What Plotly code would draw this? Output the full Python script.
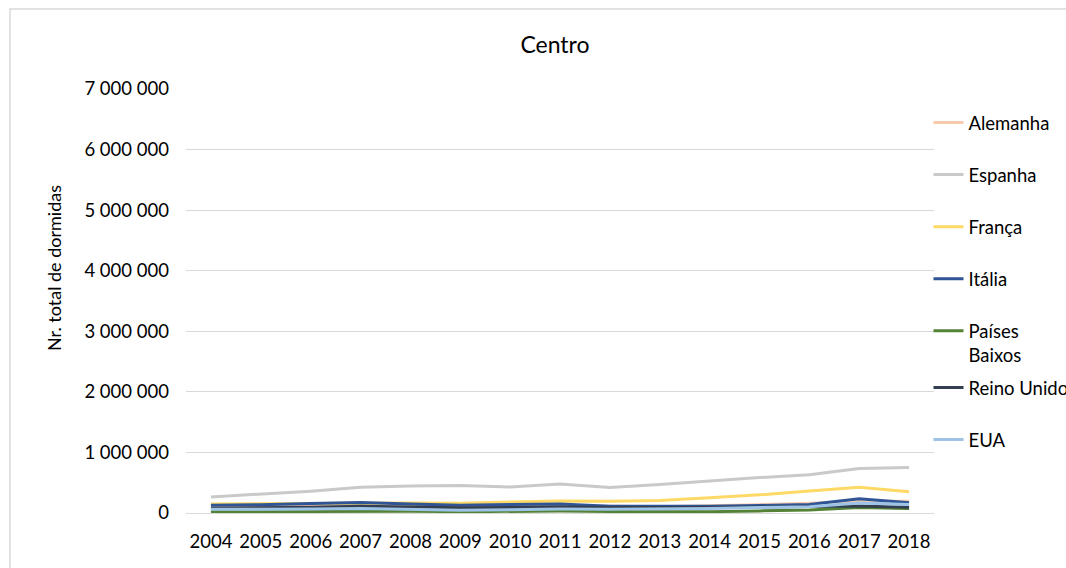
import plotly.graph_objects as go

# Dormidas por país de residência, região Centro
anos = [str(a) for a in range(2004, 2019)]

alemanha = [100000, 105000, 115000, 130000, 125000, 110000, 115000, 125000, 110000, 105000, 120000, 140000, 160000, 195000, 195000]
espanha = [265000, 310000, 360000, 425000, 445000, 452000, 430000, 478000, 420000, 470000, 530000, 585000, 630000, 735000, 750000]
franca = [150000, 150000, 155000, 160000, 165000, 160000, 180000, 200000, 195000, 205000, 250000, 300000, 365000, 425000, 350000]
italia = [130000, 135000, 155000, 175000, 150000, 130000, 140000, 150000, 110000, 105000, 110000, 125000, 140000, 235000, 170000]
paises_baixos = [20000, 25000, 28000, 32000, 30000, 22000, 28000, 32000, 25000, 20000, 22000, 35000, 50000, 90000, 75000]
reino_unido = [80000, 85000, 95000, 110000, 95000, 85000, 90000, 100000, 90000, 85000, 90000, 100000, 110000, 115000, 95000]
eua = [60000, 60000, 65000, 75000, 60000, 45000, 55000, 65000, 60000, 65000, 75000, 90000, 105000, 165000, 140000]

# (nome, valores, cor, legenda)
series = [
    ("Alemanha", alemanha, "#F8CBAD", "legend"),
    ("Espanha", espanha, "#C9C9C9", "legend"),
    ("França", franca, "#FFD966", "legend"),
    ("Itália", italia, "#2F5597", "legend"),
    ("Países<br>Baixos", paises_baixos, "#548235", "legend"),
    ("Reino Unido", reino_unido, "#333F50", "legend2"),
    ("EUA", eua, "#9DC3E6", "legend2"),
]

FONT = "Lato"
FS = 18.5

fig = go.Figure()
for i, (nome, valores, cor, leg) in enumerate(series):
    fig.add_trace(go.Scatter(
        x=anos, y=valores, name=nome, mode="lines",
        line=dict(color=cor, width=3),
        legendgroup=f"g{i}", legend=leg,
    ))

legend_common = dict(
    xref="container", yref="container",
    xanchor="left", yanchor="top",
    font=dict(family=FONT, size=FS, color="#000000"),
    tracegroupgap=25, valign="top",
    bgcolor="rgba(0,0,0,0)",
)

fig.update_layout(
    width=1066, height=568,
    margin=dict(l=186, r=132, t=89, b=55, autoexpand=False),
    paper_bgcolor="white", plot_bgcolor="white",
    separators=", ",
    font=dict(family=FONT, size=FS, color="#000000"),
    title=dict(text="Centro", x=555 / 1066, xref="container", xanchor="center",
               y=1 - 45 / 568, yref="container", yanchor="middle",
               font=dict(family=FONT, size=23, color="#000000")),
    showlegend=True,
    legend=dict(x=928.5 / 1066, y=1 - 104 / 568, **legend_common),
    legend2=dict(x=928.5 / 1066, y=1 - 369 / 568, **legend_common),
    xaxis=dict(
        type="category", range=[-0.5, 14.5], showgrid=False, zeroline=False,
        showline=True, linecolor="#D9D9D9", linewidth=1,
        ticks="", ticklabelstandoff=12,
        tickfont=dict(family=FONT, size=FS, color="#000000"),
    ),
    yaxis=dict(
        range=[0, 7000000], dtick=1000000, tickformat=",d",
        showgrid=True, gridcolor="#D9D9D9", gridwidth=1,
        zeroline=False, showline=False, ticks="", ticklabelstandoff=16,
        tickfont=dict(family=FONT, size=FS, color="#000000"),
    ),
)

# Título do eixo vertical
fig.add_annotation(text="Nr. total de dormidas", textangle=-90,
                   xref="paper", yref="paper",
                   x=(54 - 186) / 748, y=(513 - 268) / 424,
                   xanchor="center", yanchor="middle", showarrow=False,
                   font=dict(family=FONT, size=18, color="#000000"))

# Moldura da área do gráfico
fig.add_shape(type="rect", xref="paper", yref="paper",
              x0=(10 - 186) / 748, x1=1.4, y0=-0.3, y1=(513 - 9) / 424,
              line=dict(color="#D9D9D9", width=1.5), fillcolor="rgba(0,0,0,0)",
              layer="below")

fig.write_html("out.html")
